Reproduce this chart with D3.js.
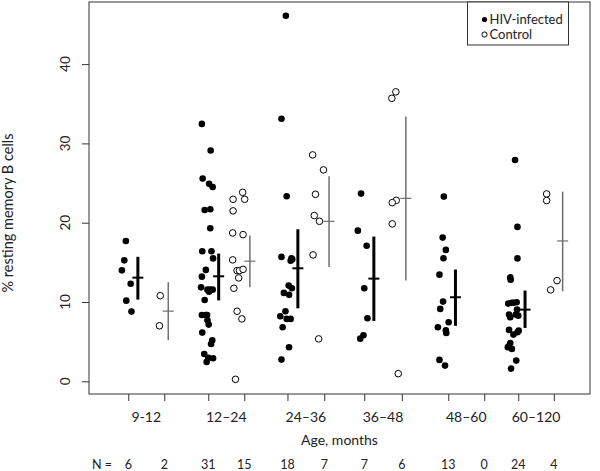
<!DOCTYPE html>
<html>
<head>
<meta charset="utf-8">
<script src="https://cdn.jsdelivr.net/npm/d3@7"></script>
<style>
  body { margin: 0; background: #fff; }
  svg { display: block; font-family: Lato, "Liberation Sans", sans-serif; }
</style>
</head>
<body>
<svg id="chart" width="600" height="471"></svg>
<script>
// age groups and sample sizes
const ageGroups = ["9-12", "12\u201324", "24\u201336", "36\u201348", "48\u201360", "60\u2013120"];
const nHiv = [6, 31, 18, 7, 13, 24];
const nCtrl = [2, 15, 7, 6, 0, 4];

// x position of each group (HIV / control), axis units
const hivPos = [1, 2, 2.99, 3.95, 5, 5.875];
const ctrlPos = [1.45, 2.45, 3.45, 4.42, 5.45, 6.32];

// individual values, % resting memory B cells
const hivValues = [
  [17.7, 15.25, 13.99, 12.31, 10.17, 8.79],
  [32.46, 29.1, 25.56, 24.9, 24.5, 21.6, 21.7, 19.3, 16.4, 16.4, 15.5, 14.05, 13.2, 11.85, 11.56, 11.56, 11.56, 11.3, 10.26, 8.37, 8.37, 8.37, 7.7, 7.15, 6.14, 5.17, 4.71, 3.45, 2.95, 2.9, 2.45],
  [46.1, 33.1, 23.33, 15.69, 15.2, 15.4, 15.5, 12.07, 11.73, 11.15, 10.9, 8.83, 8.2, 7.87, 7.87, 6.81, 4.29, 2.74],
  [23.67, 19.0, 17.1, 11.73, 7.95, 5.8, 5.38],
  [23.29, 18.12, 16.57, 15.51, 13.45, 10.05, 9.13, 7.44, 6.81, 6.43, 6.1, 2.7, 1.98],
  [27.9, 19.47, 15.5, 13.1, 12.8, 9.8, 9.9, 9.96, 9.9, 9.04, 8.41, 8.41, 8.28, 8.07, 6.48, 6.18, 5.89, 6.39, 4.84, 4.41, 4.3, 4.09, 2.61, 1.6]
];
// horizontal jitter of each point, axis units
const hivJitter = [
  [-0.03, -0.05, -0.08, 0.03, -0.025, 0.04],
  [-0.08, 0.03, -0.07, 0.01, 0.055, -0.045, 0.025, 0.025, -0.075, 0.04, 0.06, -0.03, -0.08, -0.09, -0.01, 0.02, 0.055, 0.01, -0.045, -0.08, -0.03, -0.015, -0.01, 0.005, -0.075, 0.05, 0.035, -0.05, 0, 0.06, -0.02],
  [-0.02, -0.075, -0.01, -0.075, 0.04, 0.06, 0.05, 0.015, 0.055, -0.045, 0.02, -0.025, -0.09, -0.01, 0.04, -0.06, 0.02, -0.075],
  [-0.04, -0.08, 0.03, 0, 0.04, -0.01, -0.05],
  [-0.055, -0.07, -0.03, -0.06, -0.11, -0.065, -0.1, 0.005, -0.13, -0.03, -0.025, -0.11, -0.04],
  [-0.04, -0.01, -0.01, -0.1, -0.095, -0.125, -0.06, -0.02, -0.08, -0.015, -0.115, -0.03, 0, -0.1, -0.115, -0.01, -0.06, 0.005, -0.1, -0.12, -0.13, -0.08, -0.025, -0.09]
];

const ctrlValues = [
  [10.8, 7.0],
  [23.83, 22.95, 22.95, 21.49, 18.71, 18.5, 15.31, 13.96, 13.96, 14.12, 13.04, 11.73, 8.83, 7.87, 0.25],
  [28.55, 26.66, 23.58, 20.9, 20.18, 15.94, 5.35],
  [36.5, 35.69, 22.82, 22.53, 19.85, 0.97],
  [],
  [23.63, 22.79, 12.7, 11.53]
];
const ctrlJitter = [
  [-0.05, -0.06],
  [-0.02, -0.14, 0.005, -0.14, -0.145, -0.015, -0.145, -0.09, -0.06, -0.015, -0.07, -0.13, -0.09, -0.03, -0.11],
  [-0.145, -0.01, -0.11, -0.125, -0.06, -0.14, -0.07],
  [-0.075, -0.125, -0.07, -0.12, -0.12, -0.045],
  [],
  [-0.09, -0.09, 0.04, -0.04]
];

// group means with interval ends, and where the summary bar sits
const hivMean = [13.07, 13.24, 14.25, 12.95, 10.6, 9.04];
const hivLo = [10.3, 10.2, 9.2, 7.6, 7.0, 6.73];
const hivHi = [15.7, 16.1, 19.17, 18.25, 14.1, 11.44];
const hivBarX = [1.12, 2.13, 3.12, 4.07, 5.09, 5.96];

const ctrlMean = [8.85, 15.15, 20.17, 23.07, null, 17.7];
const ctrlLo = [5.2, 11.85, 14.4, 12.7, null, 11.35];
const ctrlHi = [12.5, 18.4, 25.85, 33.4, null, 23.92];
const ctrlBarX = [1.5, 2.52, 3.51, 4.47, null, 6.43];

const yTicks = [0, 10, 20, 30, 40];

const svg = d3.select("#chart");
const plotLeft = 89, plotRight = 590, plotTop = 2, plotBottom = 394;

const x = d3.scaleLinear().domain([0.509, 6.772]).range([plotLeft, plotRight]);
const y = d3.scaleLinear().domain([-1.6, 47.83]).range([plotBottom, plotTop]);

// axes: ticks only, labels drawn by hand below
svg.append("g")
  .attr("transform", `translate(0,${plotBottom})`)
  .call(d3.axisBottom(x).tickValues(hivPos.concat(ctrlPos)).tickSize(7).tickFormat(""))
  .call(g => g.select(".domain").remove())
  .selectAll("line").attr("stroke", "#333");

svg.append("g")
  .attr("transform", `translate(${plotLeft},0)`)
  .call(d3.axisLeft(y).tickValues(yTicks).tickSize(7).tickFormat(""))
  .call(g => g.select(".domain").remove())
  .selectAll("line").attr("stroke", "#333");

svg.selectAll(".ylab")
  .data(yTicks)
  .enter().append("text")
  .attr("class", "ylab")
  .attr("transform", d => `translate(70,${y(d)}) rotate(-90)`)
  .attr("text-anchor", "middle")
  .attr("font-size", 13.5)
  .attr("fill", "#222")
  .text(d => d);

svg.append("text")
  .attr("transform", `translate(13,${(plotTop + plotBottom) / 2 + 15}) rotate(-90)`)
  .attr("text-anchor", "middle")
  .attr("font-size", 14.5)
  .attr("fill", "#222")
  .text("% resting memory B cells");

// group labels centered between the two ticks
svg.selectAll(".glab")
  .data(ageGroups)
  .enter().append("text")
  .attr("class", "glab")
  .attr("x", (d, i) => (x(hivPos[i]) + x(ctrlPos[i])) / 2)
  .attr("y", 421.5)
  .attr("text-anchor", "middle")
  .attr("font-size", 14)
  .attr("fill", "#222")
  .text(d => d);

svg.append("text")
  .attr("x", (plotLeft + plotRight) / 2)
  .attr("y", 445)
  .attr("text-anchor", "middle")
  .attr("font-size", 14)
  .attr("fill", "#222")
  .text("Age, months");

// sample size row
svg.append("text")
  .attr("x", 92).attr("y", 469)
  .attr("font-size", 12.5).attr("fill", "#222")
  .text("N =");
const nRow = [];
hivPos.forEach((p, i) => { nRow.push([p, nHiv[i]]); nRow.push([ctrlPos[i], nCtrl[i]]); });
svg.selectAll(".nlab")
  .data(nRow)
  .enter().append("text")
  .attr("class", "nlab")
  .attr("x", d => x(d[0]))
  .attr("y", 469)
  .attr("text-anchor", "middle")
  .attr("font-size", 12.5)
  .attr("fill", "#222")
  .text(d => d[1]);

// points
const hivPts = [], ctrlPts = [];
hivValues.forEach((vals, i) => vals.forEach((v, j) => hivPts.push([hivPos[i] + hivJitter[i][j], v])));
ctrlValues.forEach((vals, i) => vals.forEach((v, j) => ctrlPts.push([ctrlPos[i] + ctrlJitter[i][j], v])));

svg.append("g").selectAll("circle")
  .data(hivPts)
  .enter().append("circle")
  .attr("cx", d => x(d[0]))
  .attr("cy", d => y(d[1]))
  .attr("r", 3.3)
  .attr("fill", "#000");

svg.append("g").selectAll("circle")
  .data(ctrlPts)
  .enter().append("circle")
  .attr("cx", d => x(d[0]))
  .attr("cy", d => y(d[1]))
  .attr("r", 3.3)
  .attr("fill", "#fff")
  .attr("stroke", "#000")
  .attr("stroke-width", 1);

// mean + interval bars
function drawBars(cls, xs, means, lo, hi, color, vw, hw) {
  const idx = means.map((m, i) => i).filter(i => means[i] != null);
  const g = svg.append("g").attr("class", cls);
  g.selectAll(".v")
    .data(idx)
    .enter().append("line")
    .attr("x1", i => x(xs[i])).attr("x2", i => x(xs[i]))
    .attr("y1", i => y(lo[i])).attr("y2", i => y(hi[i]))
    .attr("stroke", color).attr("stroke-width", vw);
  g.selectAll(".h")
    .data(idx)
    .enter().append("line")
    .attr("x1", i => x(xs[i]) - 5.5).attr("x2", i => x(xs[i]) + 5.5)
    .attr("y1", i => y(means[i])).attr("y2", i => y(means[i]))
    .attr("stroke", color).attr("stroke-width", hw);
}
drawBars("hivbar", hivBarX, hivMean, hivLo, hivHi, "#000", 3, 2);
drawBars("ctrlbar", ctrlBarX, ctrlMean, ctrlLo, ctrlHi, "#6e6e6e", 1.5, 1.2);

// frame
svg.append("rect")
  .attr("x", plotLeft).attr("y", plotTop)
  .attr("width", plotRight - plotLeft).attr("height", plotBottom - plotTop)
  .attr("fill", "none").attr("stroke", "#333").attr("stroke-width", 1);

// legend
const leg = svg.append("g").attr("transform", "translate(467.5,2)");
leg.append("rect")
  .attr("width", 101).attr("height", 43)
  .attr("fill", "#fff").attr("stroke", "#333");
leg.append("circle").attr("cx", 17).attr("cy", 17.5).attr("r", 2.6).attr("fill", "#000");
leg.append("circle").attr("cx", 17).attr("cy", 32.5).attr("r", 2.6).attr("fill", "#fff").attr("stroke", "#000");
leg.append("text").attr("x", 22).attr("y", 22).attr("font-size", 13).attr("fill", "#222").text("HIV-infected");
leg.append("text").attr("x", 22).attr("y", 37).attr("font-size", 13).attr("fill", "#222").text("Control");
</script>
</body>
</html>
